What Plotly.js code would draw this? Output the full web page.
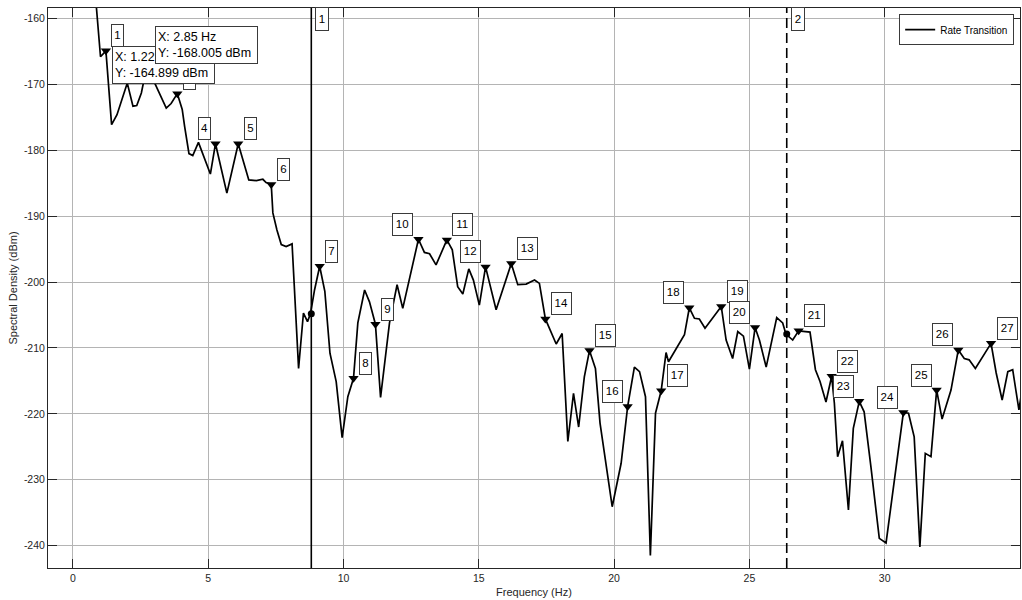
<!DOCTYPE html>
<html>
<head>
<meta charset="utf-8">
<script src="https://cdn.plot.ly/plotly-3.0.1.min.js"></script>
<style>html,body{margin:0;padding:0;background:#fff;}#chart{width:1022px;height:600px;}</style>
</head>
<body>
<div id="chart"></div>
<script>
// Spectrum trace (Hz, dBm)
const freq = [0.60,1.02,1.22,1.43,1.63,1.85,2.01,2.22,2.36,2.53,2.62,2.85,2.99,3.45,3.63,3.86,4.04,4.13,4.29,4.43,4.64,5.08,5.27,5.69,6.11,6.50,6.78,7.02,7.14,7.33,7.39,7.54,7.70,7.88,8.10,8.34,8.52,8.67,8.78,8.93,9.12,9.31,9.50,9.73,9.95,10.16,10.37,10.53,10.78,10.96,11.18,11.37,11.70,11.98,12.19,12.77,12.99,13.18,13.42,13.82,14.02,14.22,14.41,14.63,14.80,15.02,15.25,15.64,16.20,16.44,16.75,17.06,17.24,17.46,17.86,18.08,18.29,18.50,18.69,18.90,19.09,19.31,19.48,19.93,20.26,20.50,20.75,20.94,21.16,21.34,21.53,21.74,21.92,22.01,22.60,22.78,22.97,23.15,23.36,23.96,24.14,24.38,24.57,24.78,25.00,25.21,25.37,25.62,26.01,26.23,26.35,26.60,26.82,27.24,27.44,27.61,27.83,28.04,28.14,28.26,28.44,28.66,28.84,29.06,29.24,29.49,29.80,30.05,30.36,30.69,30.88,31.09,31.30,31.50,31.71,31.92,32.12,32.45,32.72,32.94,33.12,33.35,33.93,34.12,34.34,34.55,34.73,34.96,35.20];
const psd = [-145.0,-165.8,-164.899,-176.1,-174.6,-171.8,-169.8,-173.3,-173.2,-171.3,-169.5,-168.005,-169.5,-173.6,-172.9,-171.4,-173.8,-176.4,-180.5,-180.8,-178.8,-183.6,-179.0,-186.5,-179.0,-184.5,-184.6,-184.4,-184.9,-185.2,-189.5,-192.1,-194.3,-194.6,-194.2,-213.1,-204.7,-206.0,-204.8,-201.2,-197.6,-201.4,-210.8,-215.1,-223.6,-217.4,-214.6,-206.2,-201.2,-203.0,-206.4,-217.5,-206.2,-200.4,-204.0,-193.5,-195.5,-195.7,-197.4,-193.6,-195.1,-200.7,-201.8,-198.0,-199.7,-203.5,-197.7,-204.2,-197.2,-200.4,-200.3,-199.7,-200.2,-205.6,-209.4,-207.8,-224.2,-216.9,-222.0,-214.4,-210.4,-213.1,-221.4,-234.1,-227.5,-218.9,-212.9,-213.6,-217.4,-241.5,-219.9,-216.5,-210.7,-212.1,-208.0,-203.9,-205.5,-205.6,-207.0,-203.7,-208.8,-211.6,-207.5,-208.2,-213.2,-206.9,-208.8,-212.9,-205.4,-206.2,-207.9,-208.8,-207.4,-207.6,-213.3,-215.1,-218.2,-214.3,-218.4,-226.5,-224.1,-234.6,-222.2,-218.1,-219.7,-228.0,-238.9,-239.6,-230.1,-219.8,-219.9,-223.5,-240.2,-226.0,-226.5,-216.4,-220.8,-216.4,-210.3,-211.6,-211.8,-213.1,-209.3,-213.8,-217.9,-213.6,-213.3,-219.4,-213.0];

// Detected peaks
const peakFreq = [1.22,2.85,3.86,5.27,6.11,7.33,9.12,10.37,11.18,12.77,13.82,15.25,16.20,17.46,19.09,20.50,21.74,22.78,23.96,25.21,26.82,28.04,29.06,30.69,31.92,32.72,33.93];
const peakPsd = [-164.899,-168.005,-171.4,-179.0,-179.0,-185.2,-197.6,-214.6,-206.4,-193.5,-193.6,-197.7,-197.2,-205.6,-210.4,-218.9,-216.5,-203.9,-203.7,-206.9,-207.4,-214.3,-218.1,-219.8,-216.4,-210.3,-209.3];
// which side each peak label sits on ('r' right, 'l' left, 'h' hidden behind a datatip)
const peakLabelSide = ['r','h','r','l','r','r','r','r','r','l','r','l','r','r','r','l','r','l','r','l','r','r','l','l','l','l','r'];

// Cursors
const cursorFreq = [8.81, 26.38];
const cursorPsd = [-204.8, -207.9];
const cursorNames = ['1','2'];

// Datatips (indices into peaks)
const datatipPeaks = [0, 1];

const xTicks = [0,5,10,15,20,25,30,35];
const yTicks = [-240,-230,-220,-210,-200,-190,-180,-170,-160];

const FONT = 'Liberation Sans, Arial, Helvetica, sans-serif';
const AX = '#262626';

const traces = [
  {x: freq, y: psd, type: 'scatter', mode: 'lines', name: 'Rate Transition',
   line: {color: '#000000', width: 1.7}, hoverinfo: 'skip'},
  {x: peakFreq, y: peakPsd, type: 'scatter', mode: 'markers', showlegend: false,
   marker: {symbol: 'triangle-down', size: 9, color: '#000000'}, hoverinfo: 'skip'},
  {x: cursorFreq, y: cursorPsd, type: 'scatter', mode: 'markers', showlegend: false,
   marker: {symbol: 'circle', size: 7, color: '#000000'}, hoverinfo: 'skip'}
];

const boxStyle = {bgcolor: '#ffffff', bordercolor: '#3a3a3a', borderwidth: 1, borderpad: 1};
const annotations = [];
peakFreq.forEach((f, i) => {
  const side = peakLabelSide[i];
  if (side === 'h') return;
  const right = side === 'r';
  const txt = String(i + 1);
  annotations.push(Object.assign({
    x: f, y: peakPsd[i], xref: 'x', yref: 'y', text: txt, showarrow: false,
    xanchor: right ? 'left' : 'right', yanchor: 'bottom',
    xshift: right ? 5.5 : -5, yshift: 3.5,
    width: txt.length === 1 ? 9 : 16.5, height: 18.5,
    font: {family: FONT, size: 11.5, color: '#000'}
  }, boxStyle));
});
cursorFreq.forEach((f, i) => {
  annotations.push(Object.assign({
    x: f, y: 1, xref: 'x', yref: 'paper', text: cursorNames[i], showarrow: false,
    xanchor: 'left', yanchor: 'top', xshift: 4, yshift: 1,
    width: 10, height: 19.5,
    font: {family: FONT, size: 11.5, color: '#000'}
  }, boxStyle));
});
function tipText(k) {
  return 'X: ' + peakFreq[k].toFixed(2) + ' Hz<br>Y: ' + peakPsd[k].toFixed(3) + ' dBm';
}
// datatip for first peak (drawn first), then second on top
annotations.push(Object.assign({
  x: peakFreq[datatipPeaks[0]], y: peakPsd[datatipPeaks[0]], xref: 'x', yref: 'y',
  text: tipText(datatipPeaks[0]),
  showarrow: false, xanchor: 'left', yanchor: 'top', xshift: 5.7, yshift: 4.5, align: 'left',
  width: 97, height: 32, font: {family: FONT, size: 12.5, color: '#000'}
}, boxStyle, {borderpad: 2}));
annotations.push(Object.assign({
  x: peakFreq[datatipPeaks[1]], y: peakPsd[datatipPeaks[1]], xref: 'x', yref: 'y',
  text: tipText(datatipPeaks[1]),
  showarrow: false, xanchor: 'left', yanchor: 'bottom', xshift: 4.5, yshift: 7.5, align: 'left',
  width: 97, height: 32, font: {family: FONT, size: 12.5, color: '#000'}
}, boxStyle, {borderpad: 2}));

const shapes = [
  {type: 'line', xref: 'x', yref: 'paper', x0: cursorFreq[0], x1: cursorFreq[0], y0: 0, y1: 1,
   line: {color: '#000', width: 1.6}},
  {type: 'line', xref: 'x', yref: 'paper', x0: cursorFreq[1], x1: cursorFreq[1], y0: 0, y1: 1,
   line: {color: '#000', width: 1.6, dash: '10px,5px'}}
];

const axisCommon = {
  showgrid: true, gridcolor: '#b4b4b4', gridwidth: 1, zeroline: false,
  showline: true, linecolor: AX, linewidth: 1, mirror: 'ticks',
  ticks: 'inside', ticklen: 9, tickcolor: AX, tickwidth: 1,
  tickfont: {family: FONT, size: 10.5, color: AX}
};

const layout = {
  width: 1022, height: 600,
  margin: {l: 48, r: 2, t: 8, b: 32, pad: 0},
  paper_bgcolor: '#ffffff', plot_bgcolor: '#ffffff',
  font: {family: FONT, color: AX},
  xaxis: Object.assign({}, axisCommon, {
    range: [-0.92, 35], tickmode: 'array', tickvals: xTicks, ticktext: xTicks.map(String),
    title: {text: 'Frequency (Hz)', font: {family: FONT, size: 11, color: AX}, standoff: 5}
  }),
  yaxis: Object.assign({}, axisCommon, {
    range: [-243.4, -158.4], tickmode: 'array', tickvals: yTicks, ticktext: yTicks.map(String),
    title: {text: 'Spectral Density (dBm)', font: {family: FONT, size: 11, color: AX}, standoff: 4}
  }),
  showlegend: true,
  legend: {x: 0.994, y: 0.989, xanchor: 'right', yanchor: 'top', bgcolor: '#ffffff',
           bordercolor: '#3a3a3a', borderwidth: 1, font: {family: FONT, size: 10, color: '#000'},
           tracegroupgap: 0},
  annotations: annotations,
  shapes: shapes
};

Plotly.newPlot('chart', traces, layout, {displayModeBar: false, staticPlot: true});
</script>
</body>
</html>
